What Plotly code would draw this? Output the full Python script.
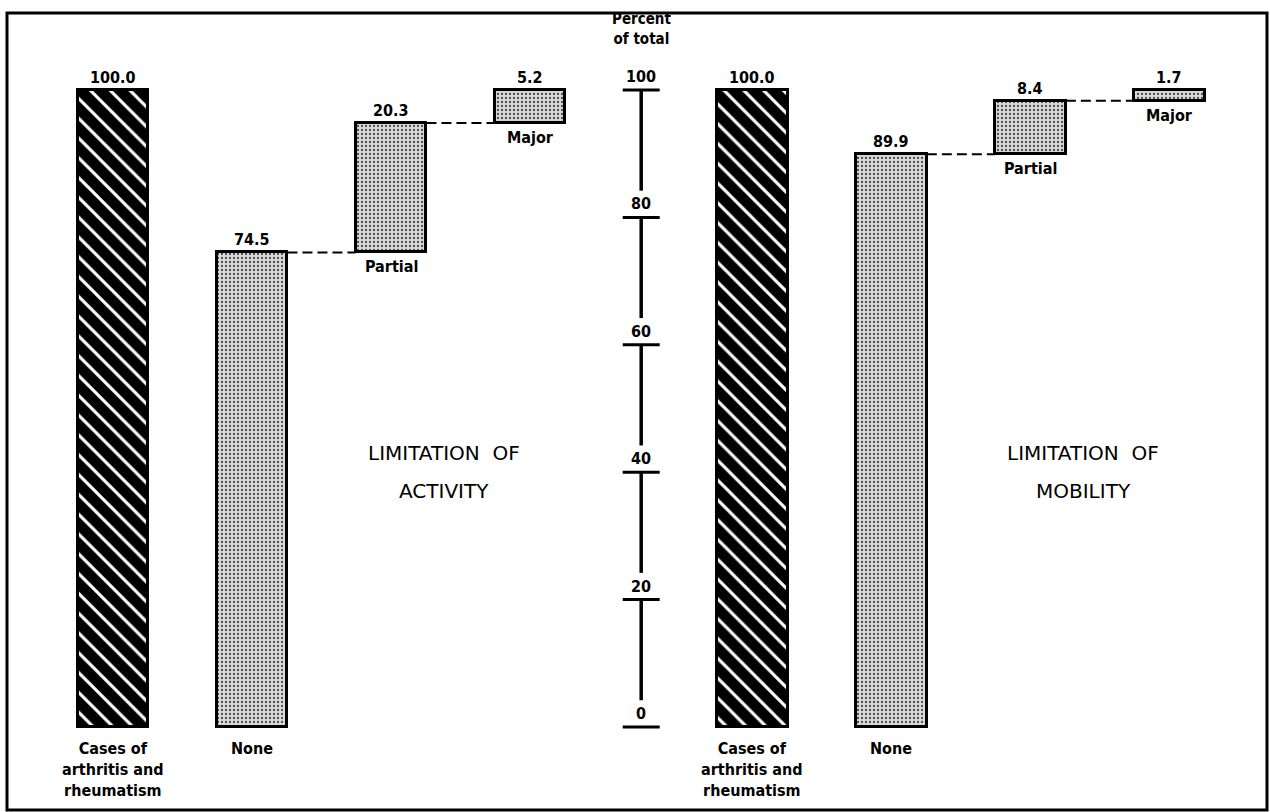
import plotly.graph_objects as go

# ---- data ----
categories = ["Cases of<br>arthritis and<br>rheumatism", "None", "Partial", "Major"]
activity_values = [100.0, 74.5, 20.3, 5.2]
mobility_values = [100.0, 89.9, 8.4, 1.7]
panel_titles = [["LIMITATION\u00a0 OF", "ACTIVITY"], ["LIMITATION\u00a0 OF", "MOBILITY"]]
axis_ticks = [0, 20, 40, 60, 80, 100]
axis_title = "Percent<br>of total"

FONT_C = "DejaVu Sans Condensed, DejaVu Sans, sans-serif"
FONT_R = "DejaVu Sans, sans-serif"

BAR_W = 0.51
panel_offsets = [0.0, 4.6]
AXIS_X = 3.8
PX_PER_UNIT = 6.37


def bold(size):
    return dict(family=FONT_C, size=size, color="black", weight="bold")


fig = go.Figure()


def bases_for(values):
    bases = [0.0]
    cum = 0.0
    for v in values[1:]:
        bases.append(cum)
        cum += v
    return bases


hatch = dict(shape="\\", bgcolor="black", fgcolor="white", fgopacity=1, size=14,
             solidity=0.22, fillmode="replace")
stipple = dict(shape=".", bgcolor="#dadada", fgcolor="#4a4a4a", fgopacity=1, size=4,
               solidity=0.25, fillmode="replace")

for p, values in enumerate([activity_values, mobility_values]):
    off = panel_offsets[p]
    xs = [off + i for i in range(len(values))]
    bases = bases_for(values)
    fig.add_trace(go.Bar(
        x=[xs[0]], y=[values[0]], base=[bases[0]], width=BAR_W,
        marker=dict(color="black", pattern=hatch, line=dict(color="black", width=3)),
        hoverinfo="skip", showlegend=False))
    fig.add_trace(go.Bar(
        x=xs[1:], y=values[1:], base=bases[1:], width=BAR_W,
        marker=dict(color="#dadada", pattern=stipple, line=dict(color="black", width=3)),
        hoverinfo="skip", showlegend=False))
    for i in range(1, len(values) - 1):
        level = bases[i] + values[i]
        fig.add_trace(go.Scatter(
            x=[xs[i] + BAR_W / 2, xs[i + 1] - BAR_W / 2], y=[level, level],
            mode="lines", line=dict(color="black", width=2, dash="10px,5px"),
            hoverinfo="skip", showlegend=False))
    for i, v in enumerate(values):
        fig.add_annotation(x=xs[i], y=bases[i] + v, text=f"{v:.1f}", showarrow=False,
                           yanchor="bottom", yshift=1, font=bold(16))
    for i, c in enumerate(categories):
        if bases[i] == 0:
            fig.add_annotation(x=xs[i], y=0, text=c, showarrow=False, yanchor="top",
                               yshift=-10, font=bold(16))
        else:
            fig.add_annotation(x=xs[i], y=bases[i], text=c, showarrow=False, yanchor="top",
                               yshift=-3, font=bold(16))
    for k, line in enumerate(panel_titles[p]):
        fig.add_annotation(x=off + 2.38, y=43.0 - k * 38 / PX_PER_UNIT, text=line,
                           showarrow=False,
                           font=dict(family=FONT_R, size=20, color="black"))

step = axis_ticks[1] - axis_ticks[0]
gap = 4.2
for t in axis_ticks:
    fig.add_trace(go.Scatter(x=[AXIS_X - 0.133, AXIS_X + 0.133], y=[t, t], mode="lines",
                             line=dict(color="black", width=3), hoverinfo="skip",
                             showlegend=False))
    fig.add_annotation(x=AXIS_X, y=t, text=str(t), showarrow=False, yanchor="bottom",
                       yshift=2, font=bold(16))
    if t > axis_ticks[0]:
        fig.add_trace(go.Scatter(x=[AXIS_X, AXIS_X], y=[t, t - step + gap], mode="lines",
                                 line=dict(color="black", width=3.5), hoverinfo="skip",
                                 showlegend=False))
fig.add_annotation(x=AXIS_X, y=axis_ticks[-1], text=axis_title, showarrow=False,
                   yanchor="bottom", yshift=40, font=bold(15))

fig.add_shape(type="rect", xref="paper", yref="paper",
              x0=7 / 1270, x1=1267 / 1270, y0=1 - 810 / 812, y1=1 - 13 / 812,
              line=dict(color="black", width=3))

fig.update_layout(
    width=1270, height=812,
    margin=dict(l=0, r=0, t=0, b=0),
    paper_bgcolor="white", plot_bgcolor="white",
    bargap=0, barmode="overlay",
    xaxis=dict(range=[-113 / 139, (1270 - 113) / 139], visible=False, fixedrange=True),
    yaxis=dict(range=[-(812 - 727) / PX_PER_UNIT, 727 / PX_PER_UNIT], visible=False,
               fixedrange=True),
)

fig.write_html("out.html", config={"displayModeBar": False},
               post_script="document.body.style.margin='0';document.body.style.overflow='hidden';")
